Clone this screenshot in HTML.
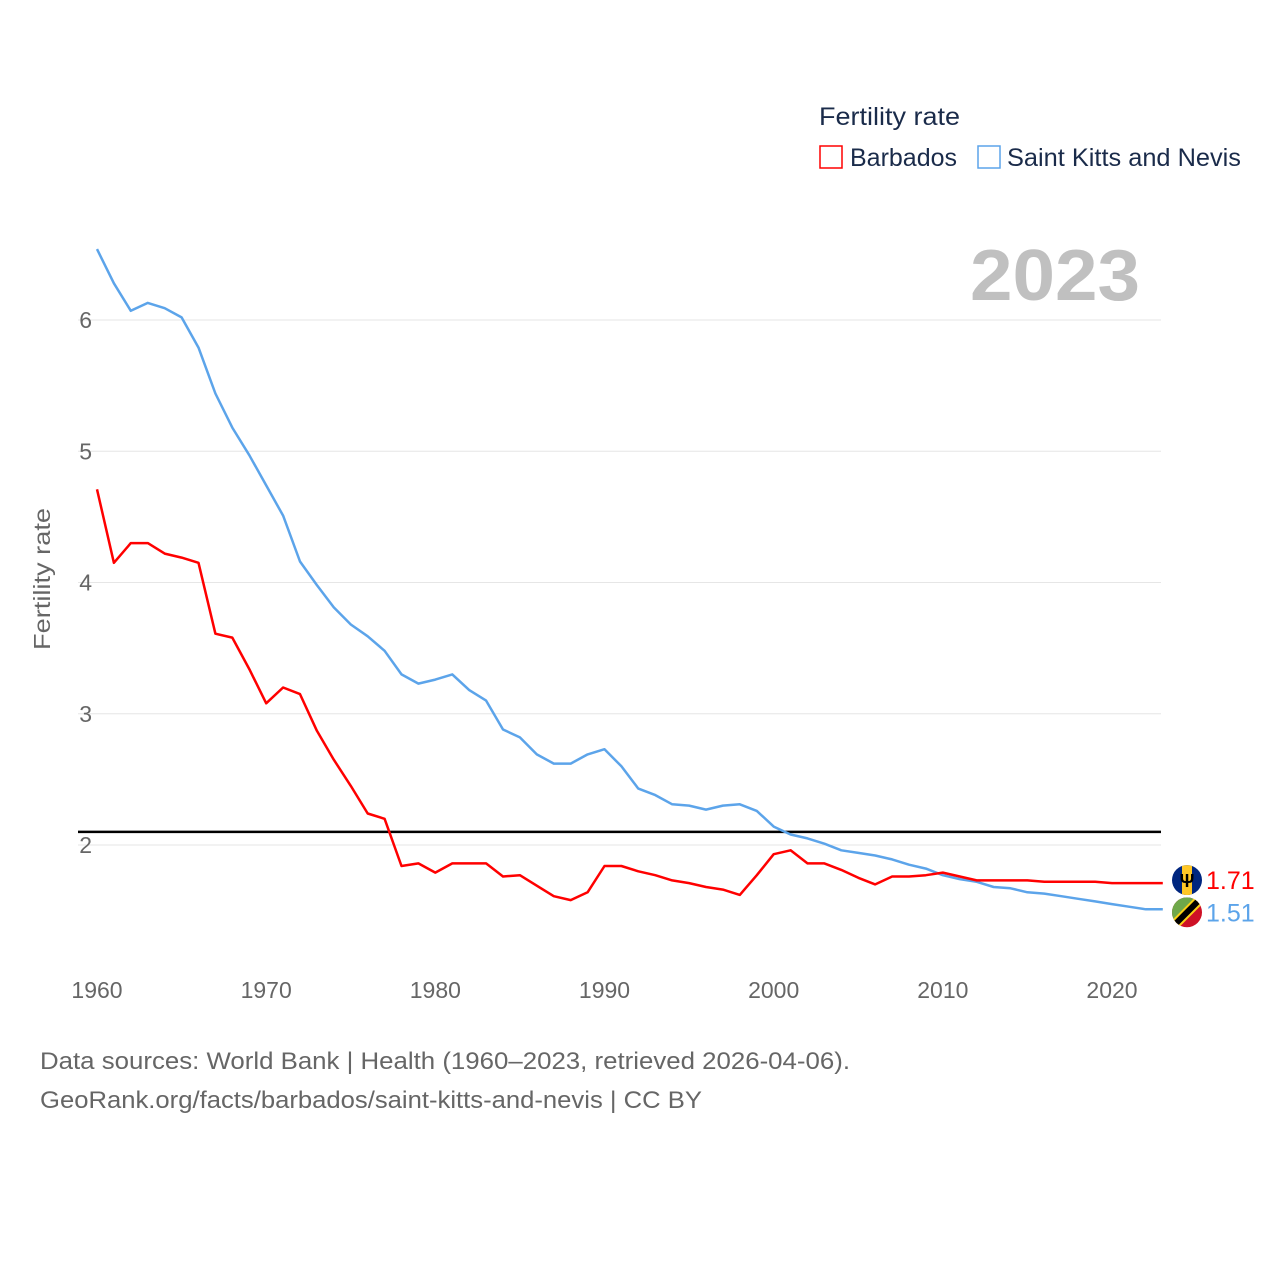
<!DOCTYPE html>
<html><head><meta charset="utf-8">
<style>
html,body{margin:0;padding:0;background:#fff;}
body{width:1280px;height:1280px;overflow:hidden;font-family:"Liberation Sans",sans-serif;}
svg text{font-family:"Liberation Sans",sans-serif;}
</style></head>
<body>
<svg id="chart" width="1280" height="1280" viewBox="0 0 1280 1280" xmlns="http://www.w3.org/2000/svg">
  <g id="legend">
    <text x="819" y="125" font-size="25" fill="#1a2b4a" textLength="141" lengthAdjust="spacingAndGlyphs">Fertility rate</text>
    <g>
      <rect x="820" y="146" width="22" height="22" fill="none" stroke="#ff0000" stroke-width="1.5"/>
      <text x="850" y="166" font-size="25" fill="#1a2b4a" textLength="107" lengthAdjust="spacingAndGlyphs">Barbados</text>
    </g>
    <g>
      <rect x="978" y="146" width="22" height="22" fill="none" stroke="#5ca4ea" stroke-width="1.5"/>
      <text x="1007" y="166" font-size="25" fill="#1a2b4a" textLength="234" lengthAdjust="spacingAndGlyphs">Saint Kitts and Nevis</text>
    </g>
  </g>
  <text x="970" y="300" font-size="72" font-weight="bold" fill="#c0c0c0" textLength="170" lengthAdjust="spacingAndGlyphs">2023</text>
  <text transform="translate(50,579) rotate(-90)" font-size="23" fill="#666" text-anchor="middle" textLength="142" lengthAdjust="spacingAndGlyphs">Fertility rate</text>
  <g id="grid"></g>
  <g id="xticks"></g>
  <g id="series"></g>
  <g id="endlabels"></g>
  <text x="40" y="1069" font-size="24" fill="#666" textLength="810" lengthAdjust="spacingAndGlyphs">Data sources: World Bank | Health (1960–2023, retrieved 2026-04-06).</text>
  <text x="40" y="1108" font-size="24" fill="#666" textLength="662" lengthAdjust="spacingAndGlyphs">GeoRank.org/facts/barbados/saint-kitts-and-nevis | CC BY</text>
</svg>
<script>
const years = [];
for (let y = 1960; y <= 2023; y++) years.push(y);
const barbados = [4.71,4.15,4.30,4.30,4.22,4.19,4.15,3.61,3.58,3.34,3.08,3.20,3.15,2.87,2.65,2.45,2.24,2.20,1.84,1.86,1.79,1.86,1.86,1.86,1.76,1.77,1.69,1.61,1.58,1.64,1.84,1.84,1.80,1.77,1.73,1.71,1.68,1.66,1.62,1.77,1.93,1.96,1.86,1.86,1.81,1.75,1.70,1.76,1.76,1.77,1.79,1.76,1.73,1.73,1.73,1.73,1.72,1.72,1.72,1.72,1.71,1.71,1.71,1.71];
const skn = [6.54,6.28,6.07,6.13,6.09,6.02,5.79,5.44,5.18,4.97,4.74,4.51,4.16,3.98,3.81,3.68,3.59,3.48,3.30,3.23,3.26,3.30,3.18,3.10,2.88,2.82,2.69,2.62,2.62,2.69,2.73,2.60,2.43,2.38,2.31,2.30,2.27,2.30,2.31,2.26,2.14,2.08,2.05,2.01,1.96,1.94,1.92,1.89,1.85,1.82,1.77,1.74,1.72,1.68,1.67,1.64,1.63,1.61,1.59,1.57,1.55,1.53,1.51,1.51];
const yTicks = [2,3,4,5,6];
const xTicks = [1960,1970,1980,1990,2000,2010,2020];
const replacement = 2.1;
const lastLabels = ["1.71","1.51"];

const NS = "http://www.w3.org/2000/svg";
const xs = yr => 97 + (yr - 1960) * (1112 - 97) / 60;
const ys = v => 845 - (v - 2) * 131.25;
function mk(tag, attrs, parent){const e=document.createElementNS(NS,tag);for(const k in attrs)e.setAttribute(k,attrs[k]);parent.appendChild(e);return e;}

const grid = document.getElementById('grid');
yTicks.forEach(t=>{
  const l = mk('line',{x1:78,x2:1161,y1:ys(t),y2:ys(t),stroke:'#e6e6e6','stroke-width':1},grid);
  
  
  const tx = mk('text',{x:92,y:ys(t)+8,'font-size':23,fill:'#666','text-anchor':'end'},grid);
  tx.textContent = t;
  
  
});
const xt = document.getElementById('xticks');
xTicks.forEach(t=>{
  const tx = mk('text',{x:xs(t),y:998,'font-size':23,fill:'#666','text-anchor':'middle'},xt);
  tx.textContent = t;
  
  
});
const ser = document.getElementById('series');
const rl = mk('line',{x1:78,x2:1161,y1:ys(replacement),y2:ys(replacement),stroke:'#000','stroke-width':2.5},ser);


function path(vals,color,name){
  const d = vals.map((v,i)=>(i?'L':'M')+xs(years[i]).toFixed(1)+','+ys(v).toFixed(1)).join(' ');
  const p = mk('path',{d:d,fill:'none',stroke:color,'stroke-width':2.5,'stroke-linejoin':'round'},ser);
  
  
}
path(skn,'#5ca4ea','line-saint-kitts-and-nevis');
path(barbados,'#ff0000','line-barbados');

const el = document.getElementById('endlabels');
const yb = ys(barbados[barbados.length-1]) - 3, yk = ys(skn[skn.length-1]) + 3;
const fb = mk('g',{},el);


const cb = mk('clipPath',{id:'cb'},fb);
mk('circle',{cx:1187,cy:yb,r:15},cb);
const gb = mk('g',{'clip-path':'url(#cb)'},fb);
mk('rect',{x:1172,y:yb-15,width:30,height:30,fill:'#00267f'},gb);
mk('rect',{x:1182,y:yb-15,width:10,height:30,fill:'#ffc726'},gb);
const tri = mk('text',{x:1187,y:yb+7,'font-size':18,'font-weight':'bold','text-anchor':'middle',fill:'#000'},gb);
tri.textContent='Ψ';
const fk = mk('g',{},el);


const ck = mk('clipPath',{id:'ck'},fk);
mk('circle',{cx:1187,cy:yk,r:15},ck);
const gk = mk('g',{'clip-path':'url(#ck)'},fk);
mk('rect',{x:1172,y:yk-15,width:30,height:30,fill:'#ce1126'},gk);
mk('polygon',{points:`1172,${yk-15} 1202,${yk-15} 1172,${yk+15}`,fill:'#6fa84a'},gk);
mk('line',{x1:1204,y1:yk-17,x2:1170,y2:yk+17,stroke:'#fcd116','stroke-width':10},gk);
mk('line',{x1:1204,y1:yk-17,x2:1170,y2:yk+17,stroke:'#000','stroke-width':6},gk);
const lb = mk('text',{x:1206,y:yb+9,'font-size':25,fill:'#ff0000'},el);
lb.textContent = lastLabels[0];


const lk = mk('text',{x:1206,y:yk+9,'font-size':25,fill:'#5ca4ea'},el);
lk.textContent = lastLabels[1];


</script>
</body></html>
